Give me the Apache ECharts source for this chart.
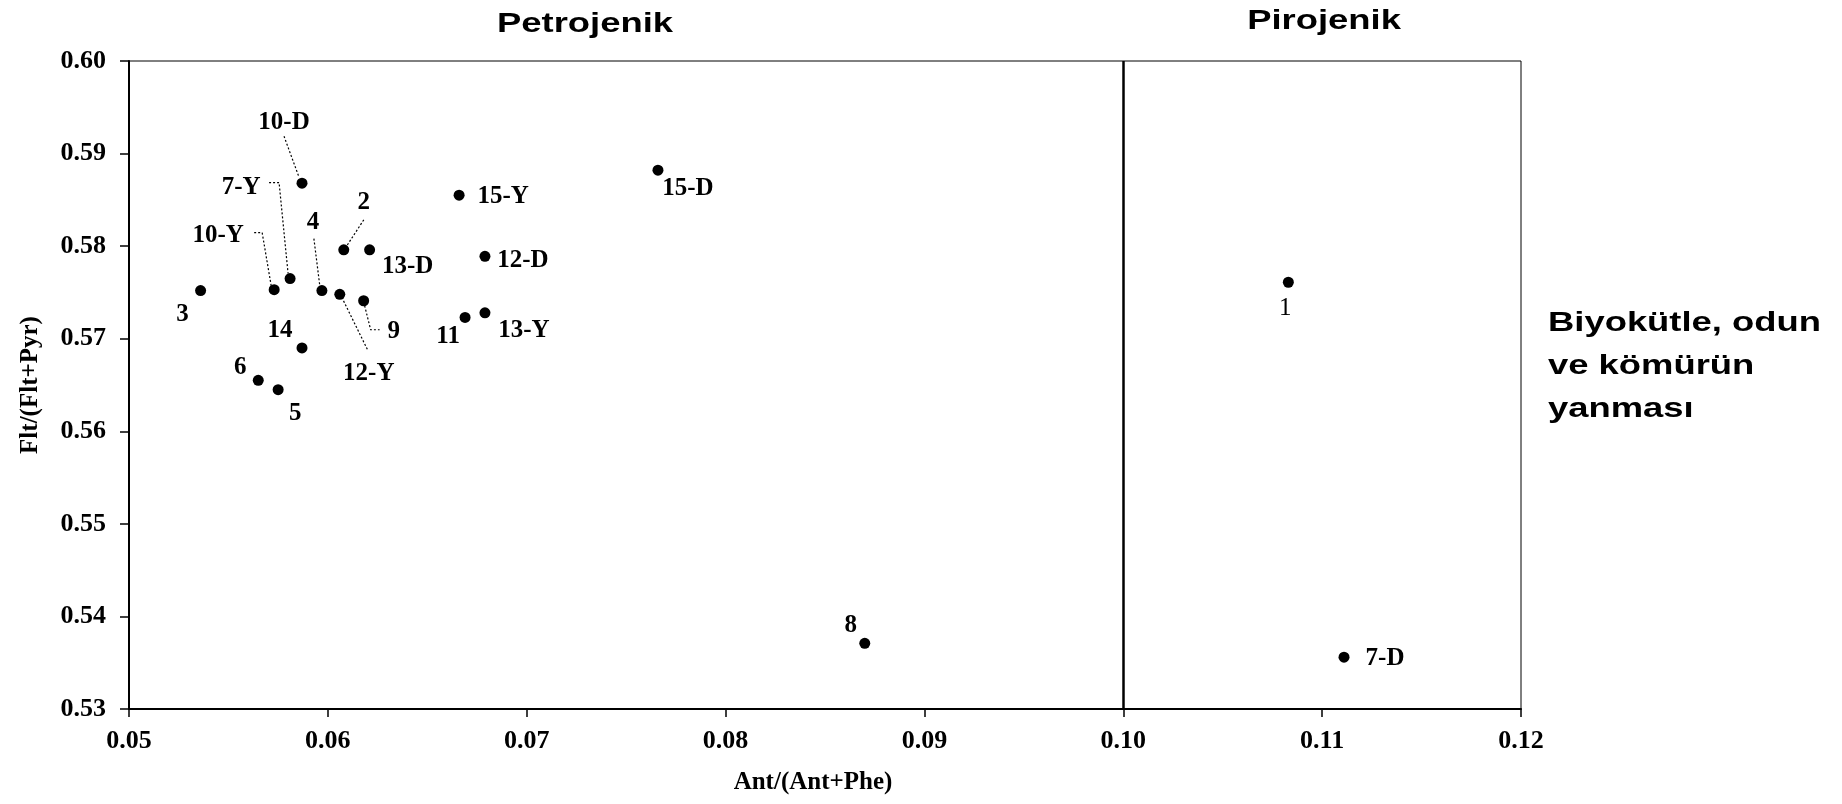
<!DOCTYPE html>
<html>
<head>
<meta charset="utf-8">
<script src="https://cdn.jsdelivr.net/npm/echarts@6/dist/echarts.min.js"></script>
<style>
  html, body { margin: 0; padding: 0; background: #fff; }
  #chart { width: 1842px; height: 804px; }
</style>
</head>
<body>
<div id="chart"></div>
<script>
// sample points, Ant/(Ant+Phe) vs Flt/(Flt+Pyr)
const sampleNames = ["10-D", "7-Y", "10-Y", "3", "2", "13-D", "4", "12-Y", "9", "14",
  "6", "5", "15-Y", "12-D", "11", "13-Y", "15-D", "8", "1", "7-D"];
const antRatio = [0.0587, 0.0581, 0.0573, 0.0536, 0.0608, 0.0621, 0.0597, 0.0606, 0.0618, 0.0587,
  0.0565, 0.0575, 0.0666, 0.0679, 0.0669, 0.0679, 0.0766, 0.0870, 0.1083, 0.1111];
const fltRatio = [0.5868, 0.5765, 0.5753, 0.5752, 0.5796, 0.5796, 0.5752, 0.5748, 0.5741, 0.5690,
  0.5655, 0.5645, 0.5855, 0.5789, 0.5723, 0.5728, 0.5882, 0.5371, 0.5761, 0.5356];

// petrogenic / pyrogenic boundary
const boundary = 0.10;
const xTicks = [0.05, 0.06, 0.07, 0.08, 0.09, 0.10, 0.11, 0.12];
const yTicks = [0.53, 0.54, 0.55, 0.56, 0.57, 0.58, 0.59, 0.60];

// label placement (pixels from the dot)
const labelOffset = {
  "10-D": [-18, -61], "7-Y": [-49, -91], "10-Y": [-56, -54], "3": [-18, 24],
  "2": [20, -47], "13-D": [38, 17], "4": [-9, -68], "12-Y": [29, 79],
  "9": [30, 31], "14": [-22, -17], "6": [-18, -13], "5": [17, 24],
  "15-Y": [44, 1], "12-D": [38, 4], "11": [-17, 19], "13-Y": [39, 18],
  "15-D": [30, 18], "8": [-14, -18], "1": [-3, 26], "7-D": [41, 1]
};
// dotted leader lines (pixels from the dot)
const leaders = {
  "10-D": [[-18, -47], [-3, -6]],
  "7-Y": [[-21, -96], [-11, -96], [-2, -5]],
  "10-Y": [[-20, -57], [-12, -57], [-3, -4]],
  "4": [[-8, -52], [-2, -4]],
  "2": [[20, -30], [3, -4]],
  "12-Y": [[2, 3], [28, 56]],
  "9": [[1, 5], [7, 29], [16, 29]]
};

const chart = echarts.init(document.getElementById("chart"));
const serif = "'Liberation Serif', 'Times New Roman', serif";
const sans = "'Liberation Sans', Arial, sans-serif";

const points = sampleNames.map(function (name, i) {
  return {
    name: name,
    value: [antRatio[i], fltRatio[i]],
    label: {
      offset: labelOffset[name],
      fontWeight: name === "1" ? "normal" : "bold"
    }
  };
});

const leaderData = sampleNames
  .map(function (name, i) { return [antRatio[i], fltRatio[i], name]; })
  .filter(function (d) { return leaders[d[2]]; });

chart.setOption({
  animation: false,
  backgroundColor: "#fff",
  grid: {
    left: 129, right: 321, top: 61, bottom: 95,
    show: true, borderColor: "#000", borderWidth: 1
  },
  xAxis: {
    type: "value",
    min: xTicks[0],
    max: xTicks[xTicks.length - 1],
    interval: 0.01,
    name: "Ant/(Ant+Phe)",
    nameLocation: "middle",
    nameGap: 61,
    nameTextStyle: {
      color: "#000", fontFamily: serif, fontWeight: "bold", fontSize: 25,
      padding: [0, 24, 0, 0]
    },
    axisLine: { lineStyle: { color: "#000", width: 2 } },
    axisTick: { show: true, length: 8, lineStyle: { color: "#000", width: 1.5 } },
    axisLabel: {
      color: "#000", fontFamily: serif, fontWeight: "bold", fontSize: 26, margin: 19,
      formatter: function (v) { return v.toFixed(2); }
    },
    splitLine: { show: false }
  },
  yAxis: {
    type: "value",
    min: yTicks[0],
    max: yTicks[yTicks.length - 1],
    interval: 0.01,
    name: "Flt/(Flt+Pyr)",
    nameLocation: "middle",
    nameGap: 86,
    nameTextStyle: { color: "#000", fontFamily: serif, fontWeight: "bold", fontSize: 25 },
    axisLine: { lineStyle: { color: "#000", width: 2 } },
    axisTick: { show: true, length: 9, lineStyle: { color: "#000", width: 1.5 } },
    axisLabel: {
      color: "#000", fontFamily: serif, fontWeight: "bold", fontSize: 26, margin: 23,
      formatter: function (v) { return v.toFixed(2); }
    },
    splitLine: { show: false }
  },
  series: [
    {
      type: "custom",
      coordinateSystem: "cartesian2d",
      silent: true,
      encode: { x: 0, y: 1 },
      data: leaderData,
      renderItem: function (params, api) {
        const c = api.coord([api.value(0), api.value(1)]);
        const path = leaders[leaderData[params.dataIndex][2]];
        return {
          type: "polyline",
          shape: { points: path.map(function (p) { return [c[0] + p[0], c[1] + p[1]]; }) },
          style: { stroke: "#000", lineWidth: 1.2, lineDash: [2, 2], fill: null }
        };
      }
    },
    {
      type: "scatter",
      symbol: "circle",
      symbolSize: 11,
      itemStyle: { color: "#000", opacity: 1 },
      label: {
        show: true,
        position: "inside",
        formatter: "{b}",
        color: "#000",
        opacity: 1,
        fontFamily: serif,
        fontSize: 25
      },
      data: points,
      markLine: {
        silent: true,
        symbol: ["none", "none"],
        label: { show: false },
        lineStyle: { color: "#000", width: 2.5, type: "solid", opacity: 1 },
        data: [{ xAxis: boundary }]
      }
    }
  ],
  graphic: [
    {
      type: "text", x: 585, y: 24, scaleX: 1.3,
      style: { text: "Petrojenik", font: "bold 28px " + sans, fill: "#000", align: "center", verticalAlign: "middle" }
    },
    {
      type: "text", x: 1324, y: 21, scaleX: 1.3,
      style: { text: "Pirojenik", font: "bold 28px " + sans, fill: "#000", align: "center", verticalAlign: "middle" }
    },
    {
      type: "text", x: 1548, y: 366, scaleX: 1.3,
      style: {
        text: "Biyokütle, odun\nve kömürün\nyanması",
        font: "bold 28px " + sans, lineHeight: 43,
        fill: "#000", align: "left", verticalAlign: "middle"
      }
    }
  ]
});
</script>
</body>
</html>
